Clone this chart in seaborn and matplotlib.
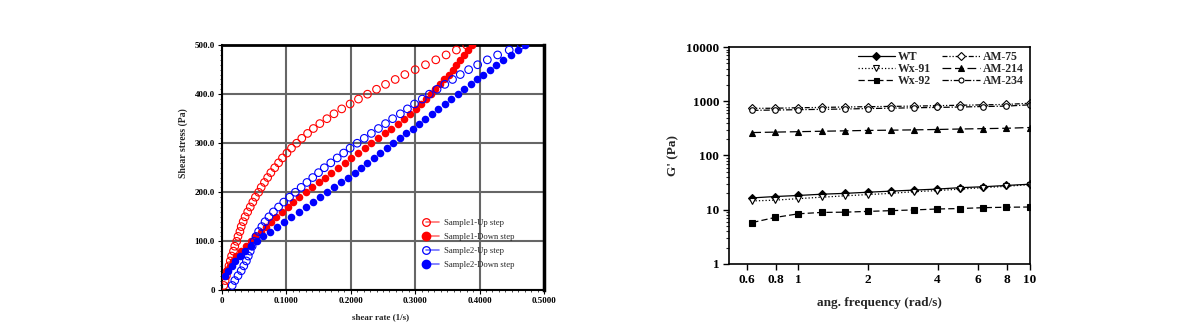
import matplotlib
matplotlib.use("Agg")
import matplotlib.pyplot as plt
import seaborn as sns
from matplotlib.lines import Line2D
from matplotlib.legend_handler import HandlerLine2D
from matplotlib.ticker import MultipleLocator, FixedLocator, FixedFormatter, NullLocator, LogLocator, NullFormatter

sns.set_theme(style="white")
plt.rcParams["font.family"] = ["Liberation Serif", "DejaVu Serif"]

# ---------------- left panel data ----------------
stress_up = [10, 20, 30, 40, 50, 60, 70, 80, 90, 100, 110, 120, 130, 140, 150, 160, 170, 180, 190, 200,
             210, 220, 230, 240, 250, 260, 270, 280, 290, 300, 310, 320, 330, 340, 350, 360, 370, 380, 390, 400,
             410, 420, 430, 440, 450, 460, 470, 480, 490, 500]
stress_down = [30, 40, 50, 60, 70, 80, 90, 100, 110, 120, 130, 140, 150, 160, 170, 180, 190, 200,
               210, 220, 230, 240, 250, 260, 270, 280, 290, 300, 310, 320, 330, 340, 350, 360, 370, 380, 390, 400,
               410, 420, 430, 440, 450, 460, 470, 480, 490, 500]
s1_up = [0.003, 0.005, 0.007, 0.009, 0.011, 0.013, 0.015, 0.018, 0.020, 0.023, 0.025, 0.028, 0.030, 0.033,
         0.036, 0.040, 0.044, 0.048, 0.052, 0.057, 0.061, 0.066, 0.071, 0.076, 0.082, 0.088, 0.094, 0.101,
         0.108, 0.116, 0.124, 0.133, 0.142, 0.152, 0.163, 0.174, 0.186, 0.199, 0.212, 0.226, 0.240, 0.254,
         0.269, 0.284, 0.300, 0.316, 0.332, 0.348, 0.364, 0.380]
s1_down = [0.003, 0.007, 0.012, 0.017, 0.022, 0.029, 0.037, 0.045, 0.052, 0.060, 0.068, 0.076, 0.084, 0.093,
           0.102, 0.111, 0.120, 0.130, 0.140, 0.150, 0.160, 0.170, 0.180, 0.191, 0.201, 0.211, 0.222, 0.232,
           0.242, 0.253, 0.263, 0.273, 0.283, 0.292, 0.301, 0.309, 0.317, 0.324, 0.331, 0.338, 0.345, 0.352,
           0.358, 0.364, 0.370, 0.376, 0.382, 0.388]
s2_up = [0.016, 0.020, 0.025, 0.030, 0.034, 0.038, 0.041, 0.044, 0.047, 0.050, 0.053, 0.057, 0.062, 0.067,
         0.073, 0.080, 0.088, 0.096, 0.105, 0.114, 0.123, 0.132, 0.141, 0.150, 0.159, 0.169, 0.179, 0.189,
         0.199, 0.210, 0.221, 0.232, 0.243, 0.254, 0.265, 0.277, 0.288, 0.299, 0.311, 0.322, 0.334, 0.346,
         0.358, 0.370, 0.383, 0.397, 0.412, 0.428, 0.446, 0.465]
s2_down = [0.005, 0.010, 0.015, 0.021, 0.028, 0.036, 0.045, 0.054, 0.064, 0.075, 0.086, 0.097, 0.108, 0.119,
           0.130, 0.141, 0.152, 0.163, 0.174, 0.185, 0.196, 0.206, 0.216, 0.226, 0.236, 0.246, 0.256, 0.266,
           0.276, 0.286, 0.296, 0.306, 0.316, 0.326, 0.336, 0.346, 0.356, 0.366, 0.376, 0.386, 0.396, 0.406,
           0.416, 0.426, 0.437, 0.448, 0.459, 0.470]
left_labels = ["Sample1-Up step", "Sample1-Down step", "Sample2-Up step", "Sample2-Down step"]
left_yticks = [0, 100, 200, 300, 400, 500]
left_yticklabels = ["0", "100.0", "200.0", "300.0", "400.0", "500.0"]
left_xticks = [0, 0.1, 0.2, 0.3, 0.4, 0.5]
left_xticklabels = ["0", "0.1000", "0.2000", "0.3000", "0.4000", "0.5000"]

# ---------------- right panel data ----------------
freq = [0.631, 0.794, 1.0, 1.259, 1.585, 1.995, 2.512, 3.162, 3.981, 5.012, 6.310, 7.943, 10.0]
g_wt = [16.5, 17.5, 18.3, 19.3, 20.0, 21.0, 22.0, 23.0, 24.0, 25.5, 26.5, 28.0, 29.5]
g_wx91 = [14.5, 15.0, 16.0, 17.0, 18.0, 19.0, 20.0, 21.5, 22.5, 24.0, 25.5, 27.0, 29.0]
g_wx92 = [5.8, 7.2, 8.4, 8.9, 9.0, 9.3, 9.6, 9.9, 10.3, 10.5, 10.9, 11.1, 11.2]
g_am75 = [740, 745, 760, 770, 785, 795, 805, 815, 830, 845, 860, 875, 920]
g_am214 = [265, 270, 275, 280, 285, 290, 293, 297, 302, 308, 313, 318, 328]
g_am234 = [680, 690, 700, 710, 720, 735, 745, 760, 770, 785, 800, 815, 860]
right_names = ["WT", "Wx-91", "Wx-92", "AM-75", "AM-214", "AM-234"]
right_xticks = [0.6, 0.8, 1, 2, 4, 6, 8, 10]
right_xticklabels = ["0.6", "0.8", "1", "2", "4", "6", "8", "10"]
right_yticks = [1, 10, 100, 1000, 10000]
right_yticklabels = ["1", "10", "100", "1000", "10000"]


class LeftMarkerHandler(HandlerLine2D):
    def create_artists(self, *args, **kwargs):
        arts = super().create_artists(*args, **kwargs)
        for a in arts:
            a.set_markevery([0])
        return arts


fig = plt.figure(figsize=(11.93, 3.27), dpi=100)
ax1 = fig.add_axes([0.186, 0.112, 0.270, 0.750])
ax2 = fig.add_axes([0.611, 0.193, 0.252, 0.663])

# ---------------- left panel ----------------
red = "#ff0000"
blue = "#0000ff"
msize = 30
sns.scatterplot(x=s1_up, y=stress_up, ax=ax1, marker="o", s=msize, facecolor="none",
                edgecolor=red, linewidth=0.8, zorder=3)
sns.scatterplot(x=s1_down, y=stress_down, ax=ax1, marker="o", s=msize, color=red,
                linewidth=0, zorder=3)
sns.scatterplot(x=s2_up, y=stress_up, ax=ax1, marker="o", s=msize, facecolor="none",
                edgecolor=blue, linewidth=0.8, zorder=3)
sns.scatterplot(x=s2_down, y=stress_down, ax=ax1, marker="o", s=msize, color=blue,
                linewidth=0, zorder=4)

ax1.set_xlim(0, 0.5)
ax1.set_ylim(0, 500)
ax1.set_xticks(left_xticks)
ax1.set_xticklabels(left_xticklabels)
ax1.set_yticks(left_yticks)
ax1.set_yticklabels(left_yticklabels)
ax1.xaxis.set_minor_locator(MultipleLocator(0.01))
ax1.yaxis.set_minor_locator(MultipleLocator(10))
ax1.grid(True, which="major", color="#666666", linewidth=1.5)
ax1.set_axisbelow(True)
ax1.tick_params(axis="both", which="major", labelsize=6.5, length=3, width=0.8,
                direction="out", pad=2, colors="black")
ax1.tick_params(axis="both", which="minor", length=1.5, width=0.6, direction="out")
ax1.tick_params(axis="x", which="both", bottom=True)
ax1.tick_params(axis="y", which="both", left=True)
for lab in ax1.get_xticklabels() + ax1.get_yticklabels():
    lab.set_fontweight("bold")
for side, lw in [("left", 1.5), ("bottom", 1.5), ("top", 2.0), ("right", 2.5)]:
    ax1.spines[side].set_visible(True)
    ax1.spines[side].set_color("black")
    ax1.spines[side].set_linewidth(lw)
ax1.set_xlabel("shear rate (1/s)", fontsize=6.5, fontweight="bold")
ax1.xaxis.set_label_coords(0.493, -0.095)
ax1.set_ylabel("Shear stress (Pa)", fontsize=7, fontweight="bold")
ax1.yaxis.set_label_coords(-0.104, 0.60)

handles = [
    Line2D([], [], color="#ff7070", lw=1.2, marker="o", markersize=5.5, mfc="none", mec=red, mew=0.9),
    Line2D([], [], color="#ff7070", lw=1.2, marker="o", markersize=6, mfc=red, mec=red),
    Line2D([], [], color="#7070ff", lw=1.2, marker="o", markersize=5.5, mfc="none", mec=blue, mew=0.9),
    Line2D([], [], color="#7070ff", lw=1.2, marker="o", markersize=6, mfc=blue, mec=blue),
]
leg1 = ax1.legend(handles, left_labels, loc="upper left", bbox_to_anchor=(0.625, 0.292),
                  frameon=False, fontsize=6.2, numpoints=2, handlelength=2.1, handletextpad=0.35,
                  labelspacing=0.72, borderaxespad=0, borderpad=0,
                  handler_map={Line2D: LeftMarkerHandler(numpoints=2)})

# ---------------- right panel ----------------
series = [
    (g_wt, "D", "black", "-", 4),
    (g_wx91, "v", "white", ":", 4.5),
    (g_wx92, "s", "black", (0, (5, 2.5)), 4),
    (g_am75, "D", "white", (0, (4, 1.5, 1, 1.5, 1, 1.5)), 4),
    (g_am214, "^", "black", (0, (7, 3)), 4.5),
    (g_am234, "o", "white", (0, (5, 1.5, 1, 1.5)), 4),
]
for vals, mk, fc, ls, ms in series:
    sns.lineplot(x=freq, y=vals, ax=ax2, marker=mk, markersize=ms, color="black",
                 markerfacecolor=fc, markeredgecolor="black", markeredgewidth=0.8,
                 linestyle=ls, linewidth=0.9, errorbar=None, sort=False)

ax2.set_xscale("log")
ax2.set_yscale("log")
ax2.set_xlim(0.5, 10)
ax2.set_ylim(1, 10000)
ax2.xaxis.set_major_locator(FixedLocator(right_xticks))
ax2.xaxis.set_major_formatter(FixedFormatter(right_xticklabels))
ax2.xaxis.set_minor_locator(NullLocator())
ax2.yaxis.set_major_locator(FixedLocator(right_yticks))
ax2.yaxis.set_major_formatter(FixedFormatter(right_yticklabels))
ax2.yaxis.set_minor_locator(LogLocator(base=10, subs=[2, 3, 4, 5, 6, 7, 8, 9]))
ax2.yaxis.set_minor_formatter(NullFormatter())
ax2.tick_params(axis="both", which="major", labelsize=9.5, length=4, width=1,
                direction="out", pad=3, colors="black")
ax2.tick_params(axis="y", which="minor", length=2, width=0.8, direction="out", left=True)
ax2.tick_params(axis="x", which="both", bottom=True)
ax2.tick_params(axis="y", which="major", left=True)
for lab in ax2.get_xticklabels() + ax2.get_yticklabels():
    lab.set_fontweight("bold")
for side in ["left", "bottom", "top", "right"]:
    ax2.spines[side].set_visible(True)
    ax2.spines[side].set_color("black")
    ax2.spines[side].set_linewidth(1.2)
ax2.set_xlabel("ang. frequency (rad/s)", fontsize=9.5, fontweight="bold", labelpad=8)
ax2.set_ylabel("G' (Pa)", fontsize=9.5, fontweight="bold", labelpad=5)

h2 = ax2.get_lines()
leg2 = ax2.legend(h2[:6], right_names, loc="upper right", bbox_to_anchor=(1.0, 1.01),
                  ncol=2, frameon=False, prop={"size": 8.5, "weight": "bold"},
                  handlelength=3.2, handletextpad=0.25, columnspacing=0.9,
                  labelspacing=0.02, borderaxespad=0.1, markerscale=0.9)

fig.savefig("out.png", dpi=100)
